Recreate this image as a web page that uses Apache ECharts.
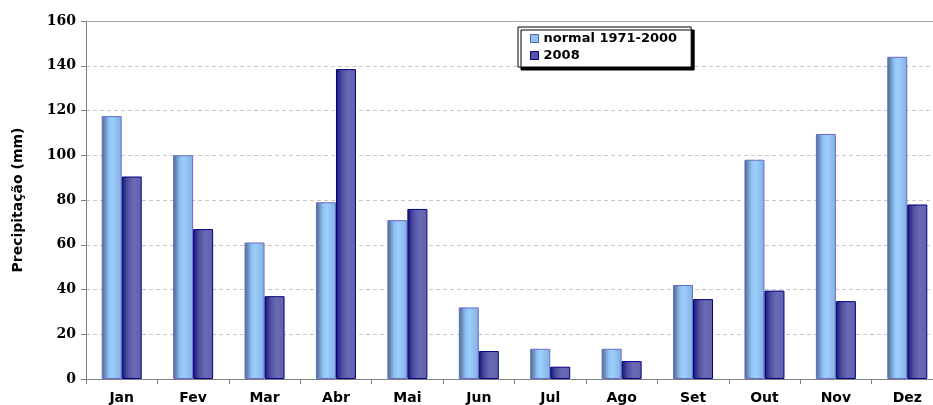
<!DOCTYPE html>
<html>
<head>
<meta charset="utf-8">
<script src="https://cdn.jsdelivr.net/npm/echarts@6/dist/echarts.min.js"></script>
<style>
  html, body { margin: 0; padding: 0; background: #fff; overflow: hidden; }
  #chart { width: 943px; height: 405px; }
</style>
</head>
<body>
<div id="chart"></div>
<script>
// monthly precipitation (mm)
const months = ['Jan', 'Fev', 'Mar', 'Abr', 'Mai', 'Jun', 'Jul', 'Ago', 'Set', 'Out', 'Nov', 'Dez'];
const normal = [117.5, 100, 61, 79, 71, 32, 13.5, 13.5, 42, 98, 109.5, 144];
const year2008 = [90.5, 67, 37, 138.5, 76, 12.5, 5.5, 8, 35.7, 39.5, 34.8, 78];

// chart is 10px wider than the window: the right edge of the plot is cut off like in the source
const chart = echarts.init(document.getElementById('chart'));

const lightBar = new echarts.graphic.LinearGradient(0, 0, 1, 0, [
  { offset: 0, color: '#4a6684' },
  { offset: 0.35, color: '#8fc2f4' },
  { offset: 0.55, color: '#9ccdfc' },
  { offset: 1, color: '#80b0e0' }
]);
const darkBar = new echarts.graphic.LinearGradient(0, 0, 1, 0, [
  { offset: 0, color: '#12127a' },
  { offset: 0.3, color: '#5050a0' },
  { offset: 0.6, color: '#6a6ab4' },
  { offset: 1, color: '#6262ac' }
]);

const option = {
  animation: false,
  grid: { left: 86, top: 21, right: 0, height: 359 },
  legend: {
    orient: 'vertical',
    left: 518,
    top: 27,
    padding: [5, 14, 5, 12],
    itemWidth: 8,
    itemHeight: 8,
    itemGap: 4,
    backgroundColor: '#fff',
    borderColor: '#000',
    borderWidth: 1,
    shadowColor: '#000',
    shadowOffsetX: 3,
    shadowOffsetY: 3,
    shadowBlur: 0,
    icon: 'rect',
    textStyle: { fontFamily: 'DejaVu Sans', fontWeight: 'bold', fontSize: 13, color: '#000' },
    data: [
      { name: 'normal 1971-2000', itemStyle: { color: '#8fc2f4', borderColor: '#5a5ab0', borderWidth: 1 } },
      { name: '2008', itemStyle: { color: '#5555a8', borderColor: '#000080', borderWidth: 1 } }
    ]
  },
  xAxis: [{
    type: 'category',
    data: months,
    boundaryGap: true,
    axisLine: { lineStyle: { color: '#808080', width: 1 } },
    axisTick: { show: true, length: 5, lineStyle: { color: '#808080' } },
    axisLabel: { fontFamily: 'DejaVu Sans', fontWeight: 'bold', fontSize: 14, color: '#000', margin: 12 }
  }, {
    type: 'category',
    data: months,
    position: 'top',
    axisLine: { show: true, lineStyle: { color: '#a0a0a0', width: 1 } },
    axisTick: { show: false },
    axisLabel: { show: false }
  }],
  yAxis: {
    type: 'value',
    min: 0,
    max: 160,
    interval: 20,
    name: 'Precipitação (mm)',
    nameLocation: 'middle',
    nameGap: 61,
    nameTextStyle: { fontFamily: 'DejaVu Sans', fontWeight: 'bold', fontSize: 14, color: '#000' },
    axisLine: { show: true, lineStyle: { color: '#808080', width: 1 } },
    axisTick: { show: true, length: 5, lineStyle: { color: '#808080' } },
    axisLabel: { fontFamily: 'DejaVu Serif', fontWeight: 'bold', fontSize: 14, color: '#000', margin: 10 },
    splitLine: { lineStyle: { color: '#c8c8c8', type: [4, 3] } }
  },
  series: [{
    name: 'normal 1971-2000',
    type: 'bar',
    data: normal,
    barWidth: 20,
    barGap: '0%',
    itemStyle: { color: lightBar, borderColor: '#6a6acc', borderWidth: 1 }
  }, {
    name: '2008',
    type: 'bar',
    data: year2008,
    barWidth: 20,
    itemStyle: { color: darkBar, borderColor: '#000080', borderWidth: 1 }
  }]
};

chart.setOption(option);
</script>
</body>
</html>
